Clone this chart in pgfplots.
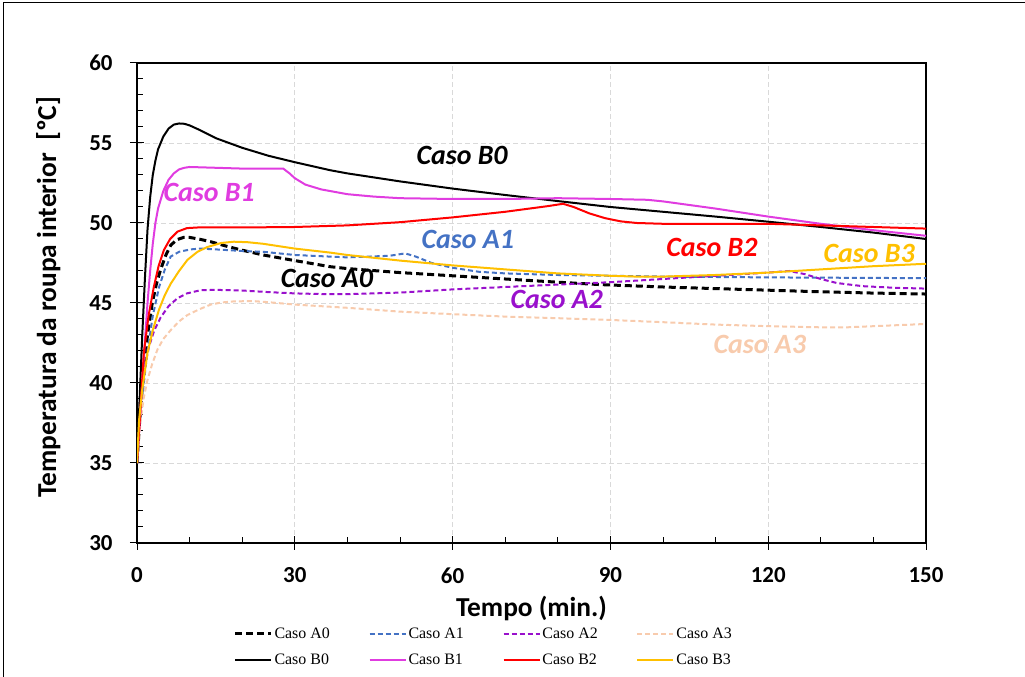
\documentclass[border=0pt]{standalone}
\usepackage{fontspec}
\setmainfont{Carlito}
\newfontfamily\legfont{Liberation Serif}
\usepackage{pgfplots}
\pgfplotsset{compat=1.18}

\definecolor{cA1}{HTML}{4472C4}
\definecolor{cA2}{HTML}{9910CC}
\definecolor{cA3}{HTML}{F8CBAD}
\definecolor{cB1}{HTML}{E03CE0}
\definecolor{cB2}{HTML}{FF0000}
\definecolor{cB3}{HTML}{FFC000}

\begin{document}
\begin{tikzpicture}[x=1bp,y=1bp]
\path[use as bounding box] (0,0) rectangle (1025,677);
\draw[line width=1bp] (3,0) -- (3,674) -- (1025,674);
\begin{axis}[
    at={(137bp,134bp)}, anchor=south west,
    scale only axis, width=789bp, height=480bp,
    xmin=0, xmax=150, ymin=30, ymax=60,
    xtick={0,30,...,150}, ytick={30,35,...,60},
    minor x tick num=2, minor y tick num=4,
    xtick pos=bottom, ytick pos=left,
    tick align=center,
    major tick length=14bp, minor tick length=6bp,
    minor x tick style={yshift=3bp}, minor y tick style={xshift=3bp},
    tick style={black, line width=1bp},
    axis line style={line width=2bp},
    grid=major,
    major grid style={gray!30, dash pattern=on 5bp off 3bp, line width=0.8bp},
    /pgf/number format/assume math mode=true,
    tick label style={font=\bfseries\fontsize{23}{27}\selectfont},
    xticklabel style={yshift=-14bp},
    yticklabel style={xshift=-14bp},
    xlabel={Tempo (min.)},
    ylabel={Temperatura da roupa interior\ \ [ºC]},
    label style={font=\bfseries\fontsize{27.5}{32}\selectfont},
    xlabel style={yshift=-6bp},
    ylabel style={yshift=22bp, xshift=6bp},
    legend columns=4,
    legend style={at={(0.455,-0.168)}, anchor=north, draw=none,
        font=\legfont\fontsize{16}{18}\selectfont,
        /tikz/row sep=10bp,
        /tikz/every even column/.append style={column sep=12bp}},
    legend cell align=left,
    legend image code/.code={\draw[#1] (0bp,0bp) -- (36bp,0bp);},
]
% Caso A0
\addplot[black, line width=3bp, dash pattern=on 7bp off 4bp] coordinates {
(0,35) (0.5,37.6) (1,39.7) (1.5,41.5) (2,43.0) (2.9,45.0) (3.7,46.2) (4.5,47.1)
(5.5,48.0) (6.4,48.6) (7.5,48.95) (8.9,49.1) (10,49.1) (12,48.98) (14,48.83)
(17,48.55) (20,48.3) (24,48.0) (30,47.65) (36.7,47.27) (40,47.15) (50,46.9)
(60,46.7) (70,46.5) (80,46.3) (88,46.15) (100,46.0) (110,45.9) (120,45.8)
(130,45.7) (140,45.62) (150,45.56)};
\addlegendentry{\makebox[80bp][l]{Caso A0}}
% Caso A1
\addplot[cA1, line width=2bp, dash pattern=on 5bp off 3bp] coordinates {
(0,35) (0.5,37.2) (1,39.0) (1.5,40.6) (2,42.0) (3,44.2) (4.2,46.0) (5.3,47.1)
(6.4,47.9) (8,48.2) (10.2,48.35) (12,48.4) (15,48.35) (20,48.25) (24,48.2)
(30,48.0) (40,47.85) (48,47.95) (51,48.1) (53,47.9) (56,47.5) (60,47.2)
(65,46.95) (70,46.85) (80,46.75) (90,46.7) (100,46.65) (120,46.6) (150,46.55)};
\addlegendentry{\makebox[80bp][l]{Caso A1}}
% Caso A2
\addplot[cA2, line width=2bp, dash pattern=on 5bp off 3bp] coordinates {
(0,35) (0.5,37.6) (1,39.8) (1.6,41.2) (2.3,42.3) (3.3,43.3) (4.5,44.1)
(6,44.8) (7.7,45.3) (9.5,45.6) (12.1,45.8) (15,45.82) (20,45.78) (25,45.68)
(30,45.6) (36,45.55) (40,45.55) (50,45.65) (60,45.85) (70,46.0) (80,46.15)
(90,46.3) (100,46.5) (110,46.7) (120,46.9) (124,47.0) (127,46.8) (130,46.5)
(133,46.25) (138,46.05) (144,45.95) (150,45.9)};
\addlegendentry{\makebox[80bp][l]{Caso A2}}
% Caso A3
\addplot[cA3, line width=2bp, dash pattern=on 5bp off 3bp] coordinates {
(0,35) (0.7,37.7) (1.3,39.1) (2,40.2) (2.9,41.2) (3.9,42.1) (5,42.75)
(6.4,43.3) (8,43.85) (9.6,44.25) (11.8,44.6) (14,44.9) (16,45.03) (18.4,45.1)
(22,45.12) (25,45.05) (30,44.9) (40,44.7) (50,44.46) (60,44.3) (70,44.15)
(80,44.05) (90,43.94) (100,43.8) (110,43.65) (120,43.55) (130,43.48)
(135,43.48) (140,43.55) (150,43.69)};
\addlegendentry{\makebox[80bp][l]{Caso A3}}
% Caso B0
\addplot[black, line width=2bp] coordinates {
(0,35) (0.5,39) (1,43) (1.5,46.5) (2,49.6) (2.5,51.6) (3,53.0) (3.5,53.9)
(4,54.6) (5,55.4) (6,55.9) (7,56.15) (8,56.22) (9,56.2) (10,56.1) (12,55.8)
(15,55.3) (20,54.7) (25,54.2) (30,53.8) (36.7,53.3) (40,53.1) (50,52.6)
(60,52.15) (70,51.75) (80,51.37) (90,51.0) (100,50.7) (110,50.4) (120,50.08)
(130,49.75) (140,49.4) (150,49.0)};
\addlegendentry{\makebox[80bp][l]{Caso B0}}
% Caso B1
\addplot[cB1, line width=2bp] coordinates {
(0,35) (0.5,37.5) (1,40) (1.5,42.6) (2,45.0) (2.5,47.0) (3,48.7) (3.5,50.0)
(4,50.9) (5,52.0) (6,52.7) (7,53.1) (8,53.35) (9,53.45) (10,53.5) (15,53.45)
(20,53.4) (25,53.4) (27.8,53.4) (29,53.1) (30,52.8) (32,52.4) (35,52.1)
(40,51.8) (45,51.65) (50,51.55) (60,51.5) (70,51.5) (80,51.55) (90,51.5)
(97,51.45) (100,51.35) (110,50.9) (120,50.4) (130,49.95) (140,49.55) (150,49.2)};
\addlegendentry{\makebox[80bp][l]{Caso B1}}
% Caso B2
\addplot[cB2, line width=2bp] coordinates {
(0,35) (0.5,37.5) (1.3,41.9) (2.2,44.2) (3.2,46.0) (4.1,47.3) (5.1,48.3)
(6.3,49.0) (7.7,49.46) (9.5,49.68) (12.1,49.73) (20,49.72) (30,49.75)
(40,49.85) (50,50.05) (60,50.35) (70,50.7) (78,51.05) (81,51.2) (83,51.0)
(86,50.6) (89,50.3) (92,50.1) (95,50.0) (100,49.95) (110,49.95) (120,49.95)
(130,49.85) (140,49.75) (150,49.65)};
\addlegendentry{\makebox[80bp][l]{Caso B2}}
% Caso B3
\addplot[cB3, line width=2bp] coordinates {
(0,35) (0.4,37.7) (1,39.6) (2,41.9) (3,43.3) (4.2,44.6) (5.3,45.5) (6.4,46.2)
(8,47.0) (9.6,47.7) (11.5,48.2) (13.4,48.5) (16,48.75) (18.4,48.83) (21,48.8)
(24,48.7) (30,48.4) (36.7,48.15) (40,48.0) (50,47.65) (60,47.35) (70,47.1)
(80,46.85) (90,46.7) (95,46.65) (100,46.65) (110,46.75) (120,46.9) (130,47.1)
(140,47.3) (150,47.45)};
\addlegendentry{\makebox[80bp][l]{Caso B3}}

\tikzset{lbl/.style={font=\bfseries\itshape\fontsize{28}{32}\selectfont}}
\node[lbl, text=black] at (axis cs:61.8,54.2) {Caso B0};
\node[lbl, text=cB1] at (axis cs:13.7,51.9) {Caso B1};
\node[lbl, text=cA1] at (axis cs:62.9,49.0) {Caso A1};
\node[lbl, text=cB2] at (axis cs:109.3,48.5) {Caso B2};
\node[lbl, text=cB3] at (axis cs:139.2,48.1) {Caso B3};
\node[lbl, text=black] at (axis cs:36.1,46.56) {Caso A0};
\node[lbl, text=cA2] at (axis cs:79.8,45.2) {Caso A2};
\node[lbl, text=cA3] at (axis cs:118.4,42.4) {Caso A3};
\end{axis}
\end{tikzpicture}
\end{document}
